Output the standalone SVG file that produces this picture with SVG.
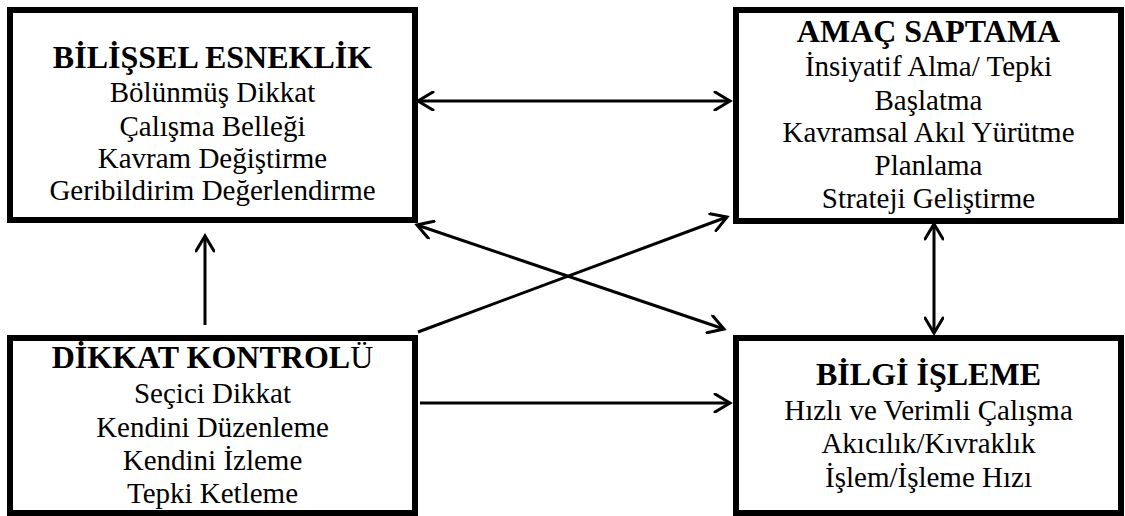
<svg xmlns="http://www.w3.org/2000/svg" width="1125" height="516" viewBox="0 0 1125 516">
<style>
.box{fill:#fff;stroke:#000;stroke-width:6}
.t{font-family:"Liberation Serif","Times New Roman",serif;font-weight:bold;font-size:32px;text-anchor:middle;fill:#000}
.b{font-family:"Liberation Serif","Times New Roman",serif;font-size:29px;text-anchor:middle;fill:#000}
.c{fill:none;stroke:#000;stroke-width:3}
</style>
<defs>
<marker id="ah" viewBox="0 0 20 20" refX="17" refY="10" markerWidth="20" markerHeight="20" markerUnits="userSpaceOnUse" orient="auto-start-reverse">
<path d="M2,1 L17,10 L2,19" fill="none" stroke="#000" stroke-width="3" stroke-linecap="round" stroke-linejoin="miter"/>
</marker>
</defs>
<g id="connectors">
<line class="c" x1="418" y1="101" x2="730" y2="101" marker-start="url(#ah)" marker-end="url(#ah)"/>
<line class="c" x1="205" y1="325" x2="205" y2="236" marker-end="url(#ah)"/>
<line class="c" x1="420" y1="403" x2="730" y2="403" marker-end="url(#ah)"/>
<line class="c" x1="417" y1="225" x2="724" y2="329" marker-start="url(#ah)" marker-end="url(#ah)"/>
<line class="c" x1="418" y1="332" x2="727" y2="217" marker-end="url(#ah)"/>
<line class="c" x1="934" y1="224" x2="934" y2="333" marker-start="url(#ah)" marker-end="url(#ah)"/>
</g>
<g id="bilissel">
<rect class="box" x="10" y="10" width="405" height="210"/>
<text class="t" x="212.5" y="68">BİLİŞSEL ESNEKLİK</text>
<text class="b" x="212.5" y="102">Bölünmüş Dikkat</text>
<text class="b" x="212.5" y="136">Çalışma Belleği</text>
<text class="b" x="212.5" y="168">Kavram Değiştirme</text>
<text class="b" x="212.5" y="200">Geribildirim Değerlendirme</text>
</g>
<g id="amac">
<rect class="box" x="736" y="10" width="385" height="211"/>
<text class="t" x="928.5" y="42">AMAÇ SAPTAMA</text>
<text class="b" x="928.5" y="76">İnsiyatif Alma/ Tepki</text>
<text class="b" x="928.5" y="110">Başlatma</text>
<text class="b" x="928.5" y="142">Kavramsal Akıl Yürütme</text>
<text class="b" x="928.5" y="175">Planlama</text>
<text class="b" x="928.5" y="208">Strateji Geliştirme</text>
</g>
<g id="dikkat">
<rect class="box" x="10" y="338" width="405" height="175"/>
<text class="t" x="212.5" y="368">DİKKAT KONTROL<tspan font-weight="normal">Ü</tspan></text>
<text class="b" x="212.5" y="403">Seçici Dikkat</text>
<text class="b" x="212.5" y="437">Kendini Düzenleme</text>
<text class="b" x="212.5" y="470">Kendini İzleme</text>
<text class="b" x="212.5" y="503">Tepki Ketleme</text>
</g>
<g id="bilgi">
<rect class="box" x="736" y="338" width="385" height="175"/>
<text class="t" x="928.5" y="385">BİLGİ İŞLEME</text>
<text class="b" x="928.5" y="420">Hızlı ve Verimli Çalışma</text>
<text class="b" x="928.5" y="453">Akıcılık/Kıvraklık</text>
<text class="b" x="928.5" y="487">İşlem/İşleme Hızı</text>
</g>
</svg>
